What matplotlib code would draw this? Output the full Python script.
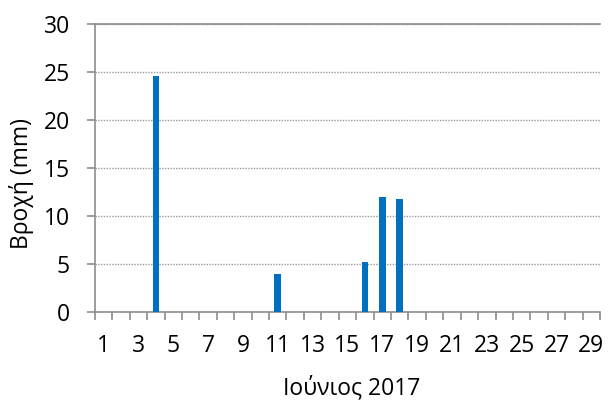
import matplotlib
matplotlib.use("Agg")
import matplotlib.pyplot as plt

plt.rcParams['font.family'] = ['Open Sans', 'DejaVu Sans']

days = list(range(1, 30))
rain = [0, 0, 0, 24.6, 0, 0, 0, 0, 0, 0,
        4.0, 0, 0, 0, 0, 5.2, 12.0, 11.8, 0, 0,
        0, 0, 0, 0, 0, 0, 0, 0, 0]
yticks = [0, 5, 10, 15, 20, 25, 30]
xlabels = [str(d) for d in days if d % 2 == 1]

fs = 16.5
fig = plt.figure(figsize=(6.08, 4.03), dpi=100)
ax = fig.add_axes([0.156, 0.226, 0.831, 0.714])

ax.bar(days, rain, width=0.38, color='#0070C0', zorder=3)

ax.set_xlim(0.5, 29.5)
ax.set_ylim(0, 30)

grey = '#8c8c8c'
for s in ['left', 'bottom', 'top']:
    ax.spines[s].set_color(grey)
    ax.spines[s].set_linewidth(1.2)
ax.spines['right'].set_visible(False)

# category boundary ticks, labels on odd days
ax.set_xticks([d + 0.5 for d in [0] + days])
ax.set_xticklabels([])
ax.set_xticks([d for d in days if d % 2 == 1], minor=True)
ax.set_xticklabels(xlabels, minor=True, fontsize=fs)
ax.tick_params(axis='x', which='major', length=6, color=grey, width=1.2)
ax.tick_params(axis='x', which='minor', length=0, pad=16)

ax.set_yticks(yticks)
ax.tick_params(axis='y', length=6, color=grey, width=1.2, pad=12, labelsize=fs)

ax.grid(axis='y', color='#999999', linestyle=(0, (1, 1)), linewidth=1, zorder=0)

ax.set_ylabel('Βροχή (mm)', fontsize=fs)
ax.yaxis.set_label_coords(-0.121, 0.448)
ax.set_xlabel('Ιούνιος 2017', fontsize=fs)
ax.xaxis.set_label_coords(0.508, -0.222)

fig.savefig('out.png', dpi=100)
